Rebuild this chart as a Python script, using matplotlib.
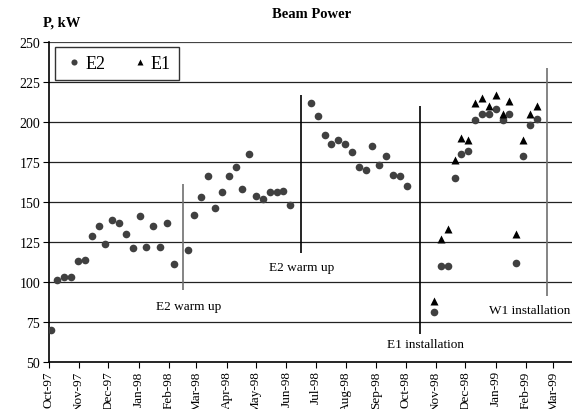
import datetime as dt
import matplotlib
matplotlib.use("Agg")
import matplotlib.pyplot as plt
import matplotlib.dates as mdates

plt.rcParams['font.family'] = ['Liberation Serif', 'DejaVu Serif']

# weekly beam power readings
e2_dates = [
    "1997-10-03", "1997-10-10", "1997-10-17", "1997-10-24", "1997-10-31",
    "1997-11-07", "1997-11-14", "1997-11-21", "1997-11-28", "1997-12-05",
    "1997-12-12", "1997-12-19", "1997-12-26", "1998-01-02", "1998-01-09",
    "1998-01-16", "1998-01-23", "1998-01-30", "1998-02-06", "1998-02-20",
    "1998-02-27", "1998-03-06", "1998-03-13", "1998-03-20", "1998-03-27",
    "1998-04-03", "1998-04-10", "1998-04-17", "1998-04-24", "1998-05-01",
    "1998-05-08", "1998-05-15", "1998-05-22", "1998-05-29", "1998-06-05",
    "1998-06-26", "1998-07-03", "1998-07-10", "1998-07-17", "1998-07-24",
    "1998-07-31", "1998-08-07", "1998-08-14", "1998-08-21", "1998-08-28",
    "1998-09-04", "1998-09-11", "1998-09-18", "1998-09-25", "1998-10-02",
    "1998-10-30", "1998-11-06", "1998-11-13", "1998-11-20", "1998-11-27",
    "1998-12-04", "1998-12-11", "1998-12-18", "1998-12-25", "1999-01-01",
    "1999-01-08", "1999-01-15", "1999-01-22", "1999-01-29", "1999-02-05",
    "1999-02-12",
]
e2_power = [
    70, 101, 103, 103, 113, 114, 129, 135, 124, 139,
    137, 130, 121, 141, 122, 135, 122, 137, 111, 120,
    142, 153, 166, 146, 156, 166, 172, 158, 180, 154,
    152, 156, 156, 157, 148,
    212, 204, 192, 186, 189, 186, 181, 172, 170, 185,
    173, 179, 167, 166, 160,
    81, 110, 110, 165, 180, 182, 201, 205, 205, 208,
    201, 205, 112, 179, 198, 202,
]

e1_dates = [
    "1998-10-30", "1998-11-06", "1998-11-13", "1998-11-20", "1998-11-27",
    "1998-12-04", "1998-12-11", "1998-12-18", "1998-12-25", "1999-01-01",
    "1999-01-08", "1999-01-15", "1999-01-22", "1999-01-29", "1999-02-05",
    "1999-02-12",
]
e1_power = [88, 127, 133, 176, 190, 189, 212, 215, 210, 217,
            205, 213, 130, 189, 205, 210]

# event markers: date, low, high, colour
event_dates = ["1998-02-15", "1998-06-16", "1998-10-16", "1999-02-22"]
event_low = [95, 118, 67.5, 91]
event_high = [161, 217, 210, 234]
event_colors = ["#707070", "black", "black", "#707070"]

labels = ["E2 warm up", "E2 warm up", "E1 installation", "W1 installation"]
label_dates = ["1998-02-21", "1998-06-17", "1998-10-21", "1999-02-05"]
label_y = [85, 109.5, 61, 82.5]


def to_date(s):
    return dt.datetime.strptime(s, "%Y-%m-%d")


fig = plt.figure(figsize=(5.72, 4.10), dpi=100)
ax = fig.add_axes([0.0851, 0.1146, 0.9149, 0.7805])

for y in range(75, 251, 25):
    lw = 1.6 if y == 250 else 0.9
    c = "#444444" if y == 250 else "#222222"
    ax.axhline(y, color=c, lw=lw, zorder=1)

for d, lo, hi, c in zip(event_dates, event_low, event_high, event_colors):
    ax.vlines(to_date(d), lo, hi, color=c, lw=1.2, zorder=2)

for t, d, y in zip(labels, label_dates, label_y):
    ax.text(to_date(d), y, t, ha="center", va="center", fontsize=9.5)

ax.plot([to_date(d) for d in e2_dates], e2_power, "o", color="#404040",
        ms=5.5, mec="none", label="E2", zorder=3)
ax.plot([to_date(d) for d in e1_dates], e1_power, "^", color="black",
        ms=6, mec="none", label="E1", zorder=3)

ax.set_ylim(50, 250)
ax.set_yticks(range(50, 251, 25))
ax.set_xlim(to_date("1997-10-01"), to_date("1999-03-20"))
ax.xaxis.set_major_locator(mdates.MonthLocator())
ax.xaxis.set_major_formatter(mdates.DateFormatter("%b-%y"))
plt.setp(ax.get_xticklabels(), rotation=90, ha="center", va="top",
         fontsize=9.5)
plt.setp(ax.get_yticklabels(), fontsize=10)
ax.tick_params(axis="both", direction="out", length=4,
               color="black", pad=2)

for s in ["top", "right"]:
    ax.spines[s].set_visible(False)
ax.spines["left"].set_linewidth(1.2)
ax.spines["bottom"].set_linewidth(1.2)

leg = ax.legend(loc="upper left", bbox_to_anchor=(0.013, 0.984), ncol=2,
                fontsize=13, frameon=True, fancybox=False, handletextpad=0.0,
                columnspacing=1.3, handlelength=1.2, borderpad=0.45,
                borderaxespad=0, markerscale=0.8)
leg.get_frame().set_edgecolor("black")
leg.get_frame().set_linewidth(1.0)

fig.text(0.545, 0.965, "Beam Power", ha="center", va="center",
         fontsize=10.5, fontweight="bold")
fig.text(0.075, 0.945, "P, kW", ha="left", va="center",
         fontsize=10.5, fontweight="bold")

fig.savefig("out.png", dpi=100)
